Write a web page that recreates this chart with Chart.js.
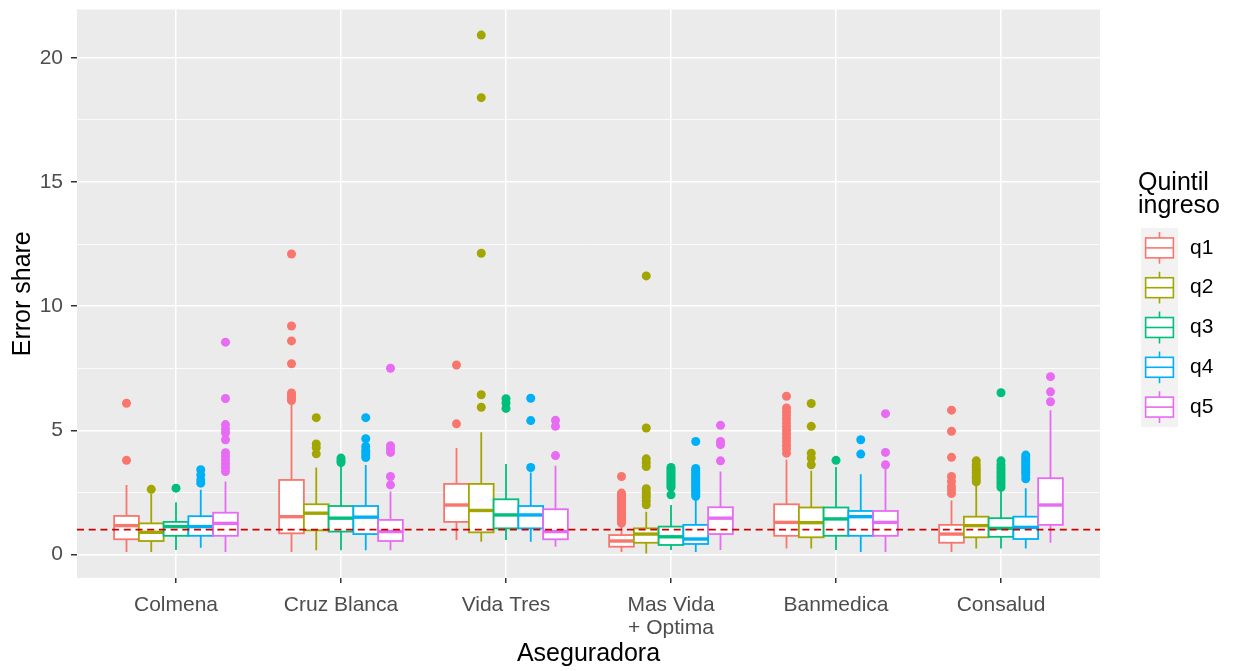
<!DOCTYPE html>
<html>
<head>
<meta charset="utf-8">
<script src="https://cdn.jsdelivr.net/npm/chart.js@4"></script>
<style>
  html, body { margin: 0; padding: 0; background: #fff; }
</style>
</head>
<body>
<canvas id="boxChart" width="1234" height="671"></canvas>
<script>
// Datos
const categories = ['Colmena', 'Cruz Blanca', 'Vida Tres', ['Mas Vida', '+ Optima'], 'Banmedica', 'Consalud'];
const quintiles = ['q1', 'q2', 'q3', 'q4', 'q5'];
const colors = ['#F8766D', '#A3A500', '#00BF7D', '#00B0F6', '#E76BF3'];
const yMajor = [0, 5, 10, 15, 20];
const yMinor = [2.5, 7.5, 12.5, 17.5];
const refLine = 1;

// [bigote inferior, Q1, mediana, Q3, bigote superior] por aseguradora
const q1Box = [[0.1, 0.61, 1.16, 1.55, 2.8], [0.1, 0.85, 1.52, 3.0, 6.04], [0.58, 1.31, 1.99, 2.84, 4.29],
               [0.1, 0.31, 0.54, 0.78, 1.19], [0.24, 0.75, 1.29, 2.02, 3.81], [0.1, 0.47, 0.82, 1.19, 2.17]];
const q2Box = [[0.1, 0.54, 0.89, 1.25, 2.45], [0.17, 0.97, 1.66, 2.02, 3.5], [0.51, 0.89, 1.77, 2.84, 4.92],
               [0.04, 0.47, 0.82, 1.05, 1.72], [0.24, 0.69, 1.28, 1.89, 3.37], [0.24, 0.69, 1.16, 1.52, 2.8]];
const q3Box = [[0.18, 0.75, 1.12, 1.31, 2.1], [0.17, 0.92, 1.46, 1.95, 3.62], [0.58, 1.05, 1.59, 2.22, 3.64],
               [0.18, 0.38, 0.71, 1.12, 1.99], [0.18, 0.75, 1.43, 1.89, 3.52], [0.24, 0.71, 1.05, 1.46, 2.53]];
const q4Box = [[0.27, 0.75, 1.12, 1.54, 2.6], [0.17, 0.82, 1.5, 1.95, 3.6], [0.51, 1.05, 1.59, 1.95, 3.3],
               [0.1, 0.42, 0.62, 1.19, 2.26], [0.1, 0.75, 1.52, 1.75, 3.23], [0.24, 0.62, 1.09, 1.52, 2.67]];
const q5Box = [[0.1, 0.75, 1.25, 1.68, 2.94], [0.17, 0.54, 0.92, 1.39, 2.53], [0.31, 0.61, 0.92, 1.82, 3.57],
               [0.18, 0.82, 1.46, 1.9, 3.34], [0.1, 0.75, 1.29, 1.75, 3.45], [0.47, 1.19, 1.99, 3.07, 5.81]];

// valores atipicos por aseguradora
const q1Out = [[6.09, 3.79],
               [12.1, 9.2, 8.6, 7.68, 6.5, 6.4, 6.3, 6.2],
               [7.63, 5.26],
               [3.14, 2.47, 2.38, 2.3, 2.22, 2.14, 2.06, 1.98, 1.9, 1.82, 1.74, 1.66, 1.58, 1.5, 1.42, 1.34, 1.26],
               [6.37, 5.9, 5.75, 5.6, 5.45, 5.3, 5.15, 5.0, 4.85, 4.7, 4.55, 4.4, 4.25, 4.08],
               [5.81, 4.96, 3.91, 3.14, 2.94, 2.74, 2.6, 2.45]];
const q2Out = [[2.62],
               [5.51, 4.45, 4.3, 4.05],
               [20.92, 18.4, 12.13, 6.43, 5.93],
               [11.22, 5.09, 3.85, 3.7, 3.54, 2.65, 2.5, 2.4, 2.3, 2.15, 2.0],
               [6.08, 5.16, 4.08, 3.88, 3.61],
               [3.77, 3.62, 3.5, 3.4, 3.3, 3.2, 3.1, 3.0, 2.92]];
const q3Out = [[2.67],
               [3.88, 3.78, 3.7],
               [6.27, 6.1, 5.88],
               [3.5, 3.42, 3.34, 3.26, 3.18, 3.1, 3.02, 2.94, 2.86, 2.78, 2.7, 2.4],
               [3.79],
               [6.51, 3.77, 3.62, 3.5, 3.4, 3.3, 3.2, 3.1, 3.0, 2.9, 2.8, 2.7]];
const q4Out = [[3.41, 3.2, 3.0, 2.87],
               [5.51, 4.66, 4.35, 4.2, 4.1, 4.0, 3.9],
               [6.29, 5.39, 3.5],
               [4.55, 3.46, 3.38, 3.3, 3.22, 3.14, 3.06, 2.98, 2.9, 2.82, 2.74, 2.66, 2.58, 2.5, 2.42, 2.34],
               [4.62, 4.04],
               [4.0, 3.9, 3.8, 3.7, 3.6, 3.5, 3.4, 3.3, 3.2, 3.05]];
const q5Out = [[8.55, 6.28, 5.23, 5.05, 4.9, 4.62, 4.1, 3.95, 3.8, 3.65, 3.5, 3.34],
               [7.5, 4.38, 4.25, 4.11, 3.14, 2.8],
               [5.4, 5.16, 3.98],
               [5.2, 4.55, 4.42, 3.77],
               [5.67, 4.11, 3.61],
               [7.16, 6.55, 6.15]];

const boxes = [q1Box, q2Box, q3Box, q4Box, q5Box];
const outliers = [q1Out, q2Out, q3Out, q4Out, q5Out];

const FONT = "'Liberation Sans', Arial, sans-serif";
const dodge = 0.15; // ancho de cada caja en unidades de categoria

// puntos atipicos como scatter, posicion esquivada por quintil
const datasets = quintiles.map((q, qi) => ({
    label: q,
    data: outliers[qi].flatMap((vals, ci) => vals.map(v => ({ x: ci + 1 + (qi - 2) * dodge, y: v }))),
    backgroundColor: colors[qi],
    borderWidth: 0,
    pointRadius: 4.5,
    pointHoverRadius: 4.5
}));

const ggPlugin = {
    id: 'ggBoxes',
    beforeDraw(chart) {
        const { ctx, chartArea: a } = chart;
        ctx.save();
        ctx.fillStyle = '#EBEBEB';
        ctx.fillRect(a.left, a.top, a.right - a.left, a.bottom - a.top);
        ctx.restore();
    },
    beforeDatasetsDraw(chart) {
        const { ctx, scales: { x, y } } = chart;
        const half = x.getPixelForValue(dodge / 2) - x.getPixelForValue(0);
        ctx.save();
        boxes.forEach((set, qi) => set.forEach((b, ci) => {
            const cx = x.getPixelForValue(ci + 1 + (qi - 2) * dodge);
            const [lo, q1, med, q3, hi] = b.map(v => y.getPixelForValue(v));
            ctx.strokeStyle = colors[qi];
            ctx.lineWidth = 1.8;
            ctx.beginPath();
            ctx.moveTo(cx, q3); ctx.lineTo(cx, hi);
            ctx.moveTo(cx, q1); ctx.lineTo(cx, lo);
            ctx.stroke();
            ctx.fillStyle = '#FFFFFF';
            ctx.fillRect(cx - half, q3, half * 2, q1 - q3);
            ctx.strokeRect(cx - half, q3, half * 2, q1 - q3);
            ctx.lineWidth = 3.4;
            ctx.beginPath();
            ctx.moveTo(cx - half, med); ctx.lineTo(cx + half, med);
            ctx.stroke();
        }));
        ctx.restore();
    },
    afterDatasetsDraw(chart) {
        const { ctx, chartArea: a, scales: { y } } = chart;
        const py = y.getPixelForValue(refLine);
        ctx.save();
        ctx.strokeStyle = '#CD0000';
        ctx.lineWidth = 1.8;
        ctx.setLineDash([7, 4.7]);
        ctx.beginPath();
        ctx.moveTo(a.left, py); ctx.lineTo(a.right, py);
        ctx.stroke();
        ctx.restore();
    },
    afterDraw(chart) {
        // leyenda estilo ggplot
        const { ctx } = chart;
        ctx.save();
        ctx.fillStyle = '#000';
        ctx.font = '25px ' + FONT;
        ctx.textBaseline = 'alphabetic';
        ctx.textAlign = 'left';
        ctx.fillText('Quintil', 1138, 190);
        ctx.fillText('ingreso', 1138, 213);
        const keyTop = 228, keyH = 39.8, keyL = 1141, keyW = 37;
        ctx.fillStyle = '#F2F2F2';
        ctx.fillRect(keyL, keyTop, keyW, keyH * quintiles.length);
        quintiles.forEach((q, qi) => {
            const kt = keyTop + qi * keyH;
            const cx = keyL + keyW / 2;
            const bw = keyW * 0.75;
            ctx.strokeStyle = colors[qi];
            ctx.lineWidth = 1.6;
            ctx.beginPath();
            ctx.moveTo(cx, kt + keyH * 0.1); ctx.lineTo(cx, kt + keyH * 0.25);
            ctx.moveTo(cx, kt + keyH * 0.75); ctx.lineTo(cx, kt + keyH * 0.9);
            ctx.stroke();
            ctx.fillStyle = '#FFFFFF';
            ctx.fillRect(cx - bw / 2, kt + keyH * 0.25, bw, keyH * 0.5);
            ctx.strokeRect(cx - bw / 2, kt + keyH * 0.25, bw, keyH * 0.5);
            ctx.beginPath();
            ctx.moveTo(cx - bw / 2, kt + keyH * 0.5); ctx.lineTo(cx + bw / 2, kt + keyH * 0.5);
            ctx.stroke();
            ctx.fillStyle = '#000';
            ctx.font = '21px ' + FONT;
            ctx.textBaseline = 'middle';
            ctx.fillText(q, 1190, kt + keyH / 2);
        });
        ctx.restore();
    }
};

const boxCtx = document.getElementById('boxChart').getContext('2d');
const boxChart = new Chart(boxCtx, {
    type: 'scatter',
    data: { datasets: datasets },
    options: {
        responsive: false,
        animation: false,
        layout: { padding: { left: 0, right: 134, top: 9.5, bottom: 0 } },
        plugins: {
            legend: { display: false },
            tooltip: { enabled: false }
        },
        scales: {
            x: {
                type: 'linear',
                min: 0.4,
                max: 6.6,
                afterFit(s) { s.height = 93; s.paddingLeft = 0; s.paddingRight = 0; },
                afterBuildTicks(s) { s.ticks = categories.map((c, i) => ({ value: i + 1 })); },
                ticks: {
                    callback: v => categories[v - 1],
                    color: '#4D4D4D',
                    font: { family: FONT, size: 21, lineHeight: 1.1 },
                    padding: 11,
                    maxRotation: 0,
                    autoSkip: false
                },
                grid: { color: '#FFFFFF', lineWidth: 1.5, tickColor: '#333333', tickLength: 5, tickWidth: 1.5 },
                border: { display: false },
                title: {
                    display: true,
                    text: 'Aseguradora',
                    color: '#000',
                    font: { family: FONT, size: 25 },
                    padding: { top: 0, bottom: 2 }
                }
            },
            y: {
                type: 'linear',
                min: -0.95,
                max: 21.95,
                afterFit(s) { s.width = 77; s.paddingTop = 0; s.paddingBottom = 0; },
                afterBuildTicks(s) {
                    s.ticks = yMajor.concat(yMinor).sort((a, b) => a - b).map(v => ({ value: v }));
                },
                ticks: {
                    callback: v => (yMajor.includes(v) ? v : ''),
                    color: '#4D4D4D',
                    font: { family: FONT, size: 21 },
                    padding: 8
                },
                grid: {
                    color: '#FFFFFF',
                    lineWidth: c => (c.tick && yMinor.includes(c.tick.value) ? 0.8 : 1.5),
                    tickColor: c => (c.tick && yMinor.includes(c.tick.value) ? 'rgba(0,0,0,0)' : '#333333'),
                    tickLength: 6,
                    tickWidth: 1.5
                },
                border: { display: false },
                title: {
                    display: true,
                    text: 'Error share',
                    color: '#000',
                    font: { family: FONT, size: 25 },
                    padding: { top: 8, bottom: 0 }
                }
            }
        }
    },
    plugins: [ggPlugin]
});
</script>
</body>
</html>
